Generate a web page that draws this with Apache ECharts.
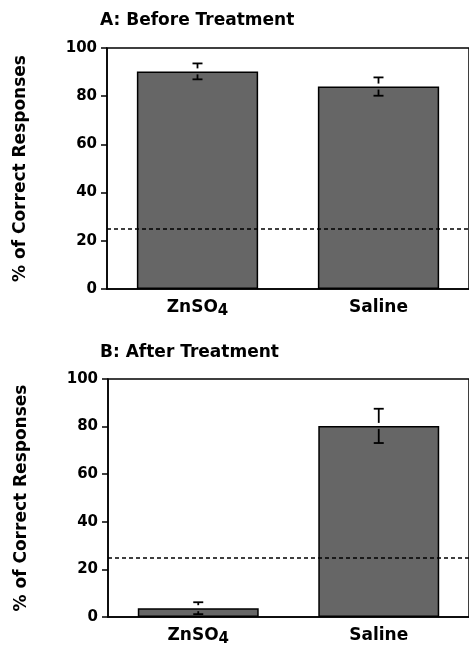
<!DOCTYPE html>
<html><head><meta charset="utf-8">
<script src="https://cdn.jsdelivr.net/npm/echarts@6/dist/echarts.min.js"></script>
<style>html,body{margin:0;padding:0;background:#fff}#c{width:469px;height:647px}</style>
</head><body><div id="c"></div>
<script>
const categories = ['ZnSO4', 'Saline'];
const beforeMeans = [90.3, 84.0];
const beforeErr = [3.3, 3.8];
const afterMeans = [3.7, 80.3];
const afterErr = [2.5, 7.2];
const chanceLevel = 25;
const panelTitles = ['A: Before Treatment', 'B: After Treatment'];
const yAxisName = '% of Correct Responses';

const FONT = 'DejaVu Sans';
const chart = echarts.init(document.getElementById('c'), null, {renderer: 'canvas'});

function xAxisCfg(gi) {
  return {
    type: 'category', gridIndex: gi, data: categories,
    axisLine: {lineStyle: {color: '#000', width: 1.5}},
    axisTick: {alignWithLabel: true, length: 6, lineStyle: {color: '#000', width: 1.5}},
    axisLabel: {
      margin: 8, color: '#000',
      formatter: v => v === 'ZnSO4' ? '{b|ZnSO}{s|4}' : '{b|' + v + '}',
      rich: {
        b: {fontFamily: FONT, fontWeight: 'bold', fontSize: 17, lineHeight: 22, verticalAlign: 'middle', color: '#000'},
        s: {fontFamily: FONT, fontWeight: 'bold', fontSize: 15, lineHeight: 13, verticalAlign: 'bottom', color: '#000'}
      }
    }
  };
}
function yAxisCfg(gi) {
  return {
    type: 'value', gridIndex: gi, min: 0, max: 100, interval: 20,
    name: yAxisName, nameLocation: 'middle', nameGap: 78, nameRotate: 90,
    nameTextStyle: {fontFamily: FONT, fontWeight: 'bold', fontSize: 17, color: '#000'},
    axisLine: {show: true, lineStyle: {color: '#000', width: 1.5}},
    axisTick: {show: true, length: 6, lineStyle: {color: '#000', width: 1.5}},
    axisLabel: {margin: 10, fontFamily: FONT, fontWeight: 'bold', fontSize: 15, color: '#000'},
    splitLine: {show: false}
  };
}
function errSeries(gi, means, errs) {
  return {
    type: 'custom', xAxisIndex: gi, yAxisIndex: gi,
    data: means.map((m, i) => [i, m, m - errs[i], m + errs[i]]),
    renderItem: (params, api) => {
      const x = api.value(0);
      const mid = api.coord([x, api.value(1)]);
      const lo = api.coord([x, api.value(2)]);
      const hi = api.coord([x, api.value(3)]);
      const hw = 5, gap = 3;
      const st = {stroke: '#000', lineWidth: 1.8};
      const kids = [
        {type: 'line', shape: {x1: hi[0] - hw, y1: hi[1], x2: hi[0] + hw, y2: hi[1]}, style: st},
        {type: 'line', shape: {x1: lo[0] - hw, y1: lo[1], x2: lo[0] + hw, y2: lo[1]}, style: st}
      ];
      if (mid[1] - gap > hi[1]) kids.push({type: 'line', shape: {x1: hi[0], y1: hi[1], x2: hi[0], y2: mid[1] - gap}, style: st});
      if (mid[1] + gap < lo[1]) kids.push({type: 'line', shape: {x1: lo[0], y1: mid[1] + gap, x2: lo[0], y2: lo[1]}, style: st});
      return {type: 'group', children: kids};
    },
    z: 5
  };
}
function barSeries(gi, means) {
  return {
    type: 'bar', xAxisIndex: gi, yAxisIndex: gi, data: means, barWidth: '67%',
    itemStyle: {color: '#666666', borderColor: '#000', borderWidth: 1.5},
    markLine: {
      silent: true, symbol: 'none', label: {show: false},
      lineStyle: {color: '#000', type: [4, 3], width: 1.5},
      data: [{yAxis: chanceLevel}]
    }
  };
}

chart.setOption({
  animation: false,
  backgroundColor: '#fff',
  title: [
    {text: panelTitles[0], left: 100, top: 12, padding: 0, textStyle: {fontFamily: FONT, fontWeight: 'bold', fontSize: 17, color: '#000'}},
    {text: panelTitles[1], left: 100, top: 344, padding: 0, textStyle: {fontFamily: FONT, fontWeight: 'bold', fontSize: 17, color: '#000'}}
  ],
  grid: [
    {left: 107, top: 48, width: 364, height: 241, show: true, borderColor: '#000', borderWidth: 1.5, backgroundColor: 'transparent'},
    {left: 108, top: 379, width: 364, height: 241, show: true, borderColor: '#000', borderWidth: 1.5, backgroundColor: 'transparent'}
  ],
  xAxis: [xAxisCfg(0), xAxisCfg(1)],
  yAxis: [yAxisCfg(0), yAxisCfg(1)],
  series: [
    barSeries(0, beforeMeans), errSeries(0, beforeMeans, beforeErr),
    barSeries(1, afterMeans), errSeries(1, afterMeans, afterErr)
  ]
});
</script></body></html>
